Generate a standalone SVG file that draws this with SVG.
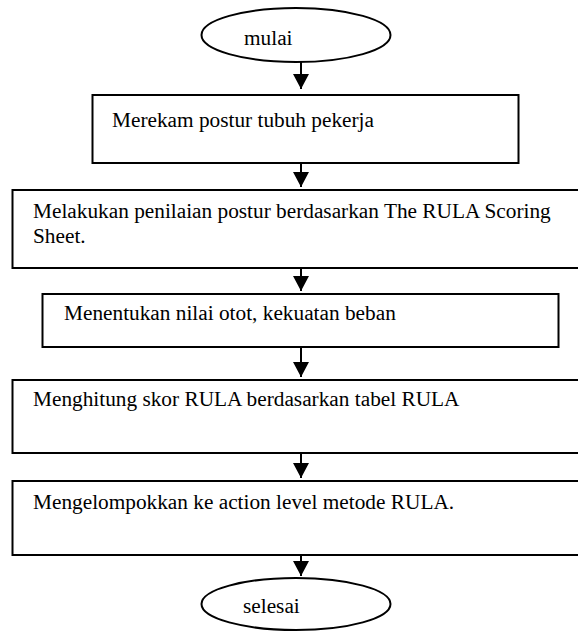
<svg xmlns="http://www.w3.org/2000/svg" width="578" height="633" viewBox="0 0 578 633">
<style>
.shape{fill:#fff;stroke:#000;stroke-width:2}
.lbl{font-family:"Liberation Serif","Times New Roman",serif;font-size:21.3px;fill:#000}
.conn{stroke:#000;stroke-width:2;fill:none}
</style>
<defs>
<marker id="ah" markerUnits="userSpaceOnUse" markerWidth="16" markerHeight="16" refX="15" refY="8" orient="auto">
<path d="M0,0 L15,8 L0,16 Z" fill="#000"/>
</marker>
</defs>
<rect width="578" height="633" fill="#fff"/>
<g id="connectors">
<line class="conn" x1="301" y1="62" x2="301" y2="89" marker-end="url(#ah)"/>
<line class="conn" x1="301" y1="163" x2="301" y2="187" marker-end="url(#ah)"/>
<line class="conn" x1="301" y1="268" x2="301" y2="291" marker-end="url(#ah)"/>
<line class="conn" x1="301" y1="347" x2="301" y2="377" marker-end="url(#ah)"/>
<line class="conn" x1="301" y1="453" x2="301" y2="478" marker-end="url(#ah)"/>
<line class="conn" x1="301" y1="555" x2="301" y2="576" marker-end="url(#ah)"/>
</g>
<g id="mulai">
<ellipse class="shape" cx="296" cy="35" rx="94.5" ry="27"/>
<text class="lbl" x="244" y="45">mulai</text>
</g>
<g id="step1">
<rect class="shape" x="92.5" y="95" width="426" height="68"/>
<text class="lbl" x="112" y="127">Merekam postur tubuh pekerja</text>
</g>
<g id="step2">
<rect class="shape" x="12.5" y="190" width="580" height="78"/>
<text class="lbl" x="33" y="218">Melakukan penilaian postur berdasarkan The RULA Scoring</text>
<text class="lbl" x="33" y="243">Sheet.</text>
</g>
<g id="step3">
<rect class="shape" x="42.5" y="294" width="516" height="53"/>
<text class="lbl" x="64" y="320">Menentukan nilai otot, kekuatan beban</text>
</g>
<g id="step4">
<rect class="shape" x="12.5" y="380" width="580" height="73"/>
<text class="lbl" x="33" y="406">Menghitung skor RULA berdasarkan tabel RULA</text>
</g>
<g id="step5">
<rect class="shape" x="12.5" y="481" width="580" height="74"/>
<text class="lbl" x="33" y="509">Mengelompokkan ke action level metode RULA.</text>
</g>
<g id="selesai">
<ellipse class="shape" cx="296" cy="604" rx="94.5" ry="26"/>
<text class="lbl" x="243" y="613">selesai</text>
</g>
</svg>
